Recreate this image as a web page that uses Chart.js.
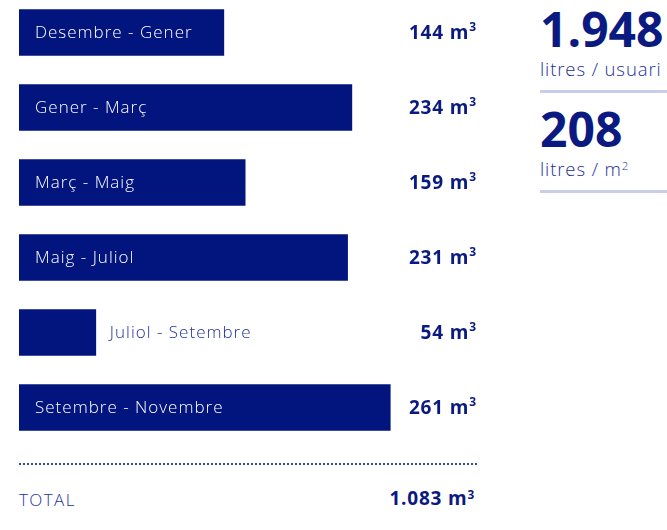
<!DOCTYPE html>
<html>
<head>
<meta charset="utf-8">
<script src="https://cdn.jsdelivr.net/npm/chart.js@4"></script>
<style>
  body { margin: 0; width: 667px; height: 530px; overflow: hidden; background: #fff; font-family: "Open Sans", sans-serif; position: relative; }
  #wrap { position: absolute; left: 0; top: -5px; width: 490px; height: 450px; }
  .sep-dots { position: absolute; left: 19px; top: 463px; width: 458px; border-top: 2px dotted #3546b8; }
  .total { position: absolute; left: 19px; top: 488px; font-size: 17px; color: #2234a8; font-weight: 300; letter-spacing: 1.4px; }
  .total-val { position: absolute; right: 192px; top: 485px; font-size: 19px; color: #0b1a80; font-weight: 700; letter-spacing: 0.8px; }
  sup { font-size: 0.62em; vertical-align: 0.55em; line-height: 0; }
  .stat { position: absolute; left: 540px; width: 127px; border-bottom: 3px solid #c8cdea; }
  .big { font-size: 48px; font-weight: 700; color: #0b1a80; line-height: 46px; letter-spacing: 0px; }
  .small { font-size: 18.5px; color: #22309a; font-weight: 300; line-height: 26px; padding-top: 4px; padding-bottom: 8px; white-space: nowrap; letter-spacing: 0.9px; }
</style>
</head>
<body>
<div id="wrap"><canvas id="chart"></canvas></div>
<div class="sep-dots"></div>
<div class="total">TOTAL</div>
<div class="total-val" id="totalVal"></div>
<div class="stat" style="top:6px"><div class="big" id="stat0"></div><div class="small">litres / usuari</div></div>
<div class="stat" style="top:106px"><div class="big" id="stat1"></div><div class="small">litres / m<sup>2</sup></div></div>
<script>
// Consum per període (m3)
const periodes = ['Desembre - Gener', 'Gener - Març', 'Març - Maig', 'Maig - Juliol', 'Juliol - Setembre', 'Setembre - Novembre'];
const consum = [144, 234, 159, 231, 54, 261];
const ratios = [1948, 208];

function formatNum(n) {
    return n.toString().replace(/\B(?=(\d{3})+(?!\d))/g, '.');
}

const total = consum.reduce((a, b) => a + b, 0);
document.getElementById('totalVal').innerHTML = formatNum(total) + ' m<sup>3</sup>';
document.getElementById('stat0').textContent = formatNum(ratios[0]);
document.getElementById('stat1').textContent = formatNum(ratios[1]);

// Etiquetes dins/fora de la barra i valors a la dreta
const etiquetesPlugin = {
    id: 'etiquetes',
    afterDatasetsDraw(chart) {
        const ctx = chart.ctx;
        const meta = chart.getDatasetMeta(0);
        ctx.save();
        ctx.textBaseline = 'middle';
        meta.data.forEach((bar, i) => {
            const left = bar.base;
            const right = bar.x;
            ctx.font = '300 17px "Open Sans"';
            ctx.letterSpacing = '1px';
            const w = ctx.measureText(periodes[i]).width;
            ctx.textAlign = 'left';
            if (w + 32 < right - left) {
                ctx.fillStyle = '#ffffff';
                ctx.fillText(periodes[i], left + 16, bar.y + 1);
            } else {
                ctx.fillStyle = '#22309a';
                ctx.fillText(periodes[i], right + 14, bar.y + 1);
            }
            // valor
            ctx.letterSpacing = '0px';
            ctx.fillStyle = '#0b1a80';
            ctx.font = '700 12px "Open Sans"';
            const supW = ctx.measureText('3').width;
            ctx.textAlign = 'right';
            ctx.fillText('3', 476, bar.y - 5);
            ctx.font = '700 19px "Open Sans"';
            ctx.letterSpacing = '0.8px';
            ctx.fillText(consum[i] + ' m', 476 - supW, bar.y + 1);
        });
        ctx.restore();
    }
};

new Chart(document.getElementById('chart'), {
    type: 'bar',
    data: {
        labels: periodes,
        datasets: [{
            data: consum,
            backgroundColor: '#02157f',
            barThickness: 46,
            borderWidth: 0
        }]
    },
    options: {
        indexAxis: 'y',
        responsive: true,
        maintainAspectRatio: false,
        animation: false,
        layout: { padding: { left: 19, right: 44.25, top: 0, bottom: 0 } },
        plugins: {
            legend: { display: false },
            tooltip: { enabled: false }
        },
        scales: {
            x: { display: false, min: 0, max: 300 },
            y: { display: false }
        }
    },
    plugins: [etiquetesPlugin]
});
</script>
</body>
</html>
